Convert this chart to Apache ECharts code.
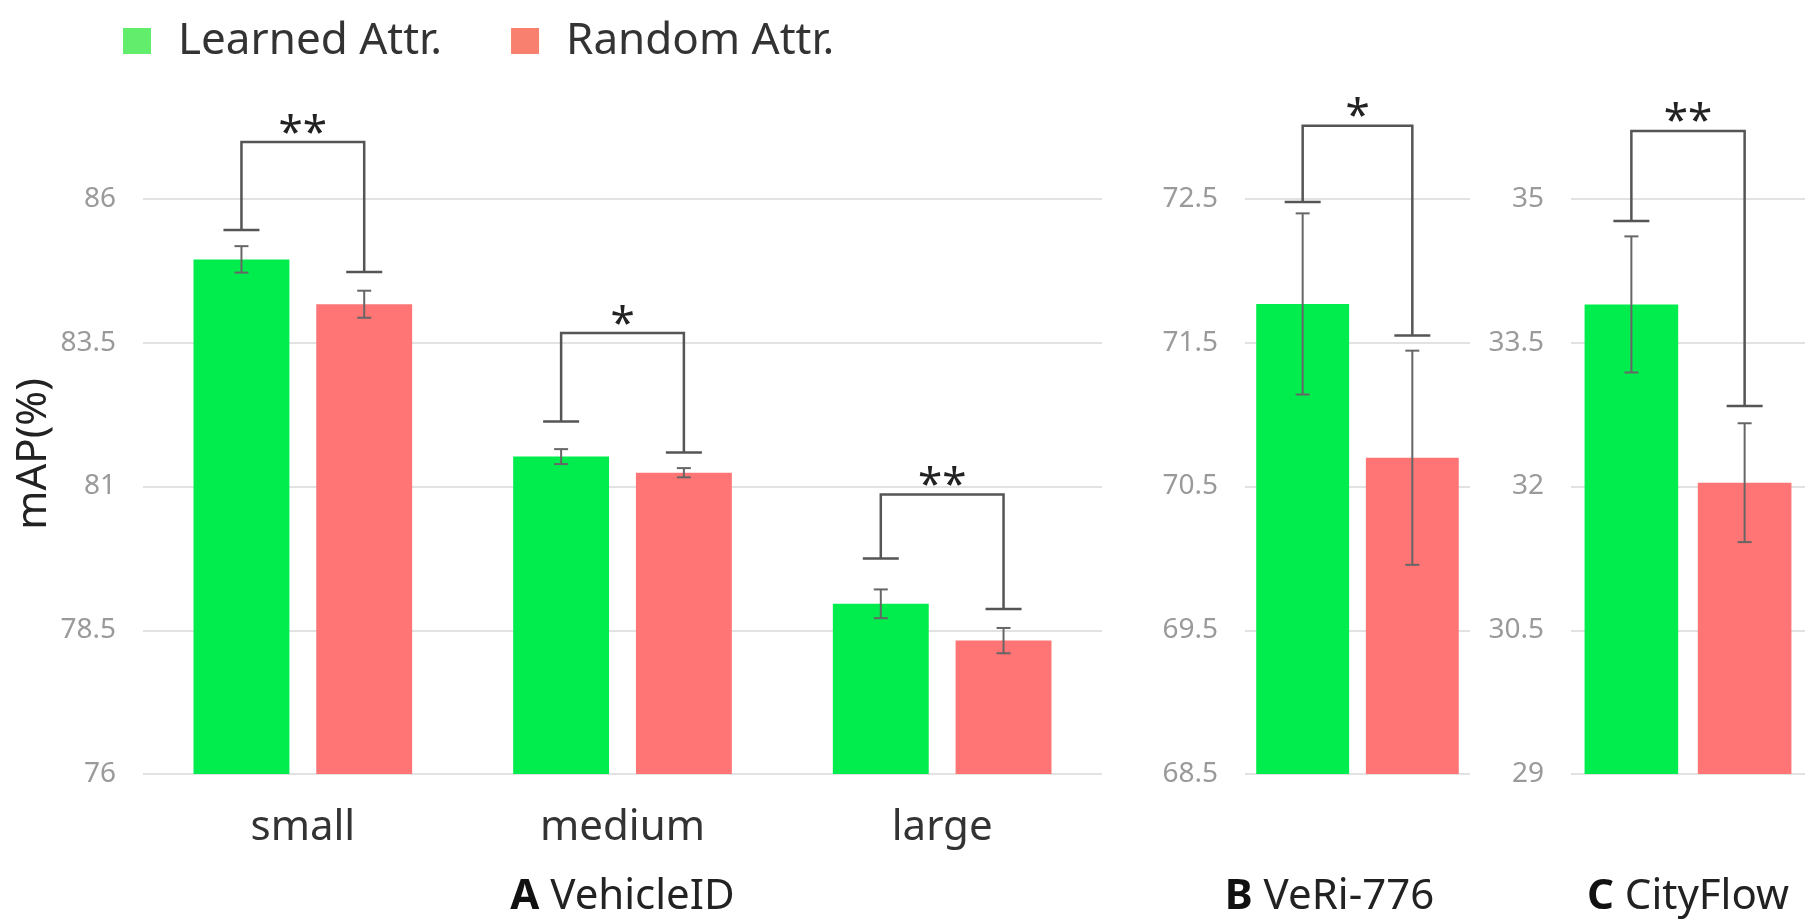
<!DOCTYPE html>
<html>
<head>
    <meta charset="UTF-8">
    <title>mAP Learned vs Random Attr.</title>
    <style>
        html, body { margin: 0; padding: 0; background: #fff; }
    </style>
</head>
<body>
<div id="chart" style="width: 1812px;height: 923px;"></div>
<script src="https://cdn.jsdelivr.net/npm/echarts@6/dist/echarts.min.js"></script>
<script>
    // A VehicleID
    var catsA = ['small', 'medium', 'large'];
    var learnedA = [84.95, 81.52, 78.96];
    var learnedErrA = [0.23, 0.13, 0.25];
    var randomA = [84.17, 81.24, 78.32];
    var randomErrA = [0.235, 0.08, 0.22];
    var sigTopA = [86.99, 83.67, 80.86];
    var sigLeftA = [85.46, 82.13, 79.75];
    var sigRightA = [84.73, 81.59, 78.87];
    var starsA = ['**', '*', '**'];

    // B VeRi-776
    var catsB = ['VeRi-776'];
    var learnedB = [71.77];
    var learnedErrB = [0.63];
    var randomB = [70.70];
    var randomErrB = [0.745];
    var sigTopB = [73.01];
    var sigLeftB = [72.48];
    var sigRightB = [71.55];
    var starsB = ['*'];

    // C CityFlow
    var catsC = ['CityFlow'];
    var learnedC = [33.90];
    var learnedErrC = [0.71];
    var randomC = [32.04];
    var randomErrC = [0.62];
    var sigTopC = [35.71];
    var sigLeftC = [34.77];
    var sigRightC = [32.84];
    var starsC = ['**'];

    var FONT = '"Noto Sans", sans-serif';
    var GREEN = '#00ED4D';
    var RED = '#FF7474';

    // bar width / gap as fraction of the category band, per panel
    var layout = [
        {bw: 0.30, gap: 0.28},
        {bw: 0.413, gap: 0.18},
        {bw: 0.40, gap: 0.21}
    ];

    function errorRender(panel, side) {
        var l = layout[panel];
        return function (params, api) {
            var band = api.size([1, 0])[0];
            var off = side * band * l.bw * (1 + l.gap) / 2;
            var c = api.value(0), v = api.value(1), e = api.value(2);
            var hi = api.coord([c, v + e]);
            var lo = api.coord([c, v - e]);
            var x = hi[0] + off;
            var st = {stroke: '#666', lineWidth: 2};
            return {
                type: 'group',
                children: [
                    {type: 'line', shape: {x1: x, y1: hi[1], x2: x, y2: lo[1]}, style: st},
                    {type: 'line', shape: {x1: x - 7, y1: hi[1], x2: x + 7, y2: hi[1]}, style: st},
                    {type: 'line', shape: {x1: x - 7, y1: lo[1], x2: x + 7, y2: lo[1]}, style: st}
                ]
            };
        };
    }

    function bracketRender(panel, stars) {
        var l = layout[panel];
        return function (params, api) {
            var band = api.size([1, 0])[0];
            var off = band * l.bw * (1 + l.gap) / 2;
            var c = api.value(0);
            var top = api.coord([c, api.value(1)]);
            var yl = api.coord([c, api.value(2)])[1];
            var yr = api.coord([c, api.value(3)])[1];
            var xl = top[0] - off, xr = top[0] + off;
            var st = {stroke: '#555', lineWidth: 2.5, fill: null};
            return {
                type: 'group',
                children: [
                    {type: 'polyline', shape: {points: [[xl, yl], [xl, top[1]], [xr, top[1]], [xr, yr]]}, style: st},
                    {type: 'line', shape: {x1: xl - 18, y1: yl, x2: xl + 18, y2: yl}, style: st},
                    {type: 'line', shape: {x1: xr - 18, y1: yr, x2: xr + 18, y2: yr}, style: st},
                    {type: 'text', x: top[0], y: top[1] + 14,
                        style: {text: stars[params.dataIndex], font: '44px ' + FONT, fill: '#222',
                            align: 'center', verticalAlign: 'bottom'}}
                ]
            };
        };
    }

    function zip(vals, errs) {
        return vals.map(function (v, i) { return [i, v, errs[i]]; });
    }
    function zipSig(tops, ls, rs) {
        return tops.map(function (t, i) { return [i, t, ls[i], rs[i]]; });
    }

    var panels = [
        {cats: catsA, l: learnedA, le: learnedErrA, r: randomA, re: randomErrA,
            top: sigTopA, left: sigLeftA, right: sigRightA, stars: starsA},
        {cats: catsB, l: learnedB, le: learnedErrB, r: randomB, re: randomErrB,
            top: sigTopB, left: sigLeftB, right: sigRightB, stars: starsB},
        {cats: catsC, l: learnedC, le: learnedErrC, r: randomC, re: randomErrC,
            top: sigTopC, left: sigLeftC, right: sigRightC, stars: starsC}
    ];

    var series = [];
    panels.forEach(function (p, i) {
        var pct = (layout[i].bw * 100) + '%';
        series.push({
            name: 'Learned Attr.', type: 'bar', xAxisIndex: i, yAxisIndex: i,
            data: p.l, barWidth: pct, barGap: (layout[i].gap * 100) + '%',
            itemStyle: {color: GREEN}
        });
        series.push({
            name: 'Random Attr.', type: 'bar', xAxisIndex: i, yAxisIndex: i,
            data: p.r, barWidth: pct, barGap: (layout[i].gap * 100) + '%',
            itemStyle: {color: RED}
        });
        series.push({
            type: 'custom', xAxisIndex: i, yAxisIndex: i, z: 5, silent: true,
            renderItem: errorRender(i, -1), data: zip(p.l, p.le)
        });
        series.push({
            type: 'custom', xAxisIndex: i, yAxisIndex: i, z: 5, silent: true,
            renderItem: errorRender(i, 1), data: zip(p.r, p.re)
        });
        series.push({
            type: 'custom', xAxisIndex: i, yAxisIndex: i, z: 6, silent: true, clip: false,
            renderItem: bracketRender(i, p.stars), data: zipSig(p.top, p.left, p.right)
        });
    });

    var grids = [
        {left: 143, right: 710, top: 199, bottom: 149},
        {left: 1245, right: 342, top: 199, bottom: 149},
        {left: 1571, right: 7, top: 199, bottom: 149}
    ];
    var yRanges = [[76, 86, 2.5], [68.5, 72.5, 1], [29, 35, 1.5]];
    var titles = [['A', 'VehicleID', [0, 0, 0, 0]], ['B', 'VeRi-776', [0, 56, 0, 0]], ['C', 'CityFlow', [0, 0, 0, 0]]];

    var xAxes = panels.map(function (p, i) {
        return {
            type: 'category', gridIndex: i, data: p.cats,
            axisLine: {show: false}, axisTick: {show: false},
            axisLabel: {show: i === 0, fontFamily: FONT, fontSize: 42, color: '#333', margin: 33},
            name: '{b|' + titles[i][0] + '} ' + titles[i][1],
            nameLocation: 'middle', nameGap: 102,
            nameTextStyle: {fontFamily: FONT, fontSize: 42, color: '#222', padding: titles[i][2],
                rich: {b: {fontFamily: FONT, fontSize: 42, fontWeight: 'bold', color: '#111'}}}
        };
    });
    var yAxes = yRanges.map(function (r, i) {
        return {
            type: 'value', gridIndex: i, min: r[0], max: r[1], interval: r[2],
            axisLine: {show: false}, axisTick: {show: false},
            axisLabel: {fontFamily: FONT, fontSize: 28, color: '#9a9a9a', margin: 27},
            splitLine: {lineStyle: {color: '#e2e2e2', width: 2}}
        };
    });

    var chart = echarts.init(document.getElementById('chart'));
    chart.setOption({
        animation: false,
        backgroundColor: '#fff',
        legend: {
            left: 118, top: 14, itemWidth: 28, itemHeight: 26, itemGap: 69, icon: 'rect',
            data: [
                {name: 'Learned Attr.', itemStyle: {color: '#62EE6C'}},
                {name: 'Random Attr.', itemStyle: {color: '#F8806F'}}
            ],
            textStyle: {fontFamily: FONT, fontSize: 44, color: '#333', padding: [0, 0, 0, 22]}
        },
        graphic: [{
            type: 'text', x: 34, y: 454, rotation: Math.PI / 2,
            style: {text: 'mAP(%)', font: '42px ' + FONT, fill: '#222', align: 'center', verticalAlign: 'middle'}
        }],
        grid: grids,
        xAxis: xAxes,
        yAxis: yAxes,
        series: series
    });
</script>
</body>
</html>
